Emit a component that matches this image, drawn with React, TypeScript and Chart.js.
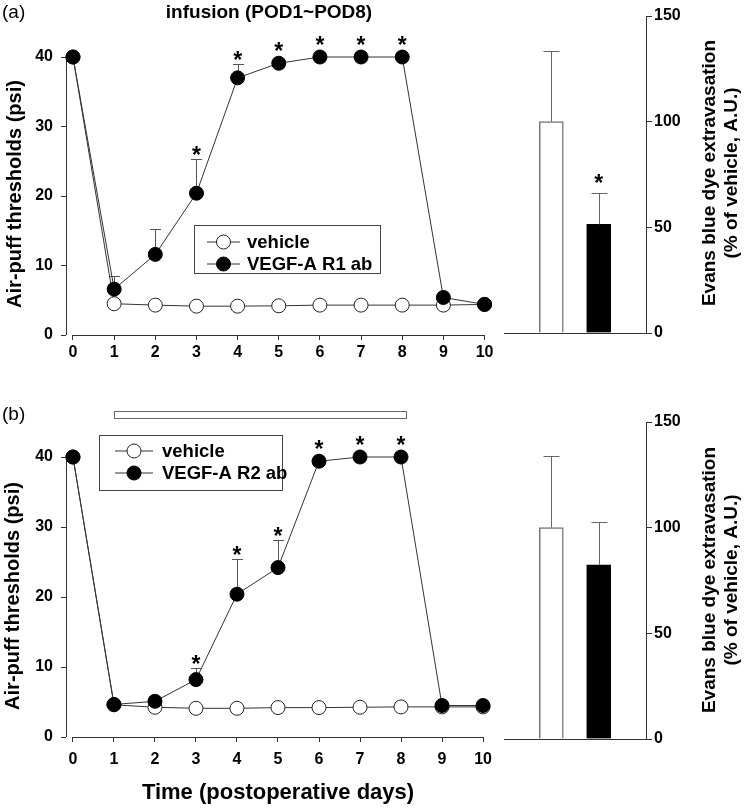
import React, { useEffect, useRef } from "react";
import { Chart, registerables } from "chart.js";

Chart.register(...registerables);

// ---------------- DATA ----------------
const days = [0, 1, 2, 3, 4, 5, 6, 7, 8, 9, 10];
const xTickValues = [0, 1, 2, 3, 4, 5, 6, 7, 8, 9, 10];
const leftTickValues = [0, 10, 20, 30, 40];
const rightTickValues = [0, 50, 100, 150];

// Panel (a)
const vehicleA = [40, 4.5, 4.3, 4.15, 4.15, 4.2, 4.3, 4.3, 4.3, 4.3, 4.4];
const vehicleAErr = [0, 0, 0, 0, 0, 0, 0, 0, 0, 0, 0];
const r1A = [40, 6.6, 11.6, 20.4, 37.0, 39.1, 40, 40, 40, 5.4, 4.4];
const r1AErr = [0, 1.9, 3.6, 4.9, 2.0, 0, 0, 0, 0, 0, 0];
const sigDaysA = [3, 4, 5, 6, 7, 8];

// Panel (b)
const vehicleB = [40, 4.6, 4.25, 4.1, 4.1, 4.2, 4.2, 4.25, 4.3, 4.3, 4.3];
const vehicleBErr = [0, 0, 0, 0, 0, 0, 0, 0, 0, 0, 0];
const r2B = [40, 4.65, 5.1, 8.2, 20.4, 24.2, 39.4, 40, 40, 4.5, 4.5];
const r2BErr = [0, 0, 0, 1.7, 5.1, 4.0, 0, 0, 0, 0, 0];
const sigDaysB = [3, 4, 5, 6, 7, 8];
const infusionDays = [1, 8];

// Bars (Evans blue)
const barGroupsA = ["vehicle", "VEGF-A R1 ab"];
const barA = [100, 51.4];
const barAErr = [33.6, 15.0];
const barSigA = [1];
const barGroupsB = ["vehicle", "VEGF-A R2 ab"];
const barB = [100, 82.4];
const barBErr = [33.7, 20.3];
const barSigB: number[] = [];

// ---------------- STYLE ----------------
const FONT = "'Liberation Sans', Arial, Helvetica, sans-serif";
const AXIS = "#333";
const LINE = "#333";
const ERR = "#555";
const PR = 7;

type TextItem = { text: string; x: number; y: number; size: number; bold?: boolean; align?: CanvasTextAlign; rot?: number };

const textPlugin = {
  id: "texts",
  afterDraw(chart: any) {
    const items: TextItem[] = chart.options.plugins.texts?.items || [];
    const ctx = chart.ctx;
    items.forEach((t) => {
      ctx.save();
      ctx.fillStyle = "#000";
      ctx.font = `${t.bold ? "bold " : ""}${t.size}px ${FONT}`;
      ctx.textAlign = t.align || "center";
      ctx.textBaseline = "middle";
      ctx.translate(t.x, t.y);
      if (t.rot) ctx.rotate(t.rot);
      ctx.fillText(t.text, 0, 0);
      ctx.restore();
    });
  },
};

const drawStar = (ctx: CanvasRenderingContext2D, x: number, cy: number) => {
  const size = 23;
  ctx.save();
  ctx.fillStyle = "#000";
  ctx.font = `bold ${size}px ${FONT}`;
  ctx.textAlign = "center";
  ctx.textBaseline = "alphabetic";
  ctx.fillText("*", x, cy + 0.57 * size);
  ctx.restore();
};

const linePlugin = {
  id: "lineExtras",
  beforeDatasetsDraw(chart: any) {
    const ctx = chart.ctx;
    const xs = chart.scales.x;
    const ys = chart.scales.y;
    const area = chart.chartArea;
    ctx.save();
    ctx.strokeStyle = AXIS;
    ctx.lineWidth = 1;
    // y axis
    ctx.beginPath();
    ctx.moveTo(Math.round(area.left) + 0.5, ys.getPixelForValue(ys.min));
    ctx.lineTo(Math.round(area.left) + 0.5, ys.getPixelForValue(ys.max));
    ctx.stroke();
    // x axis
    ctx.beginPath();
    ctx.moveTo(xs.getPixelForValue(xTickValues[0]), Math.round(area.bottom) + 0.5);
    ctx.lineTo(xs.getPixelForValue(xTickValues[xTickValues.length - 1]), Math.round(area.bottom) + 0.5);
    ctx.stroke();
    // error bars
    ctx.strokeStyle = ERR;
    chart.data.datasets.forEach((ds: any) => {
      (ds.errs || []).forEach((e: number, i: number) => {
        if (!e) return;
        const p = ds.data[i];
        const px = Math.round(xs.getPixelForValue(p.x)) + 0.5;
        const y0 = ys.getPixelForValue(p.y);
        const y1 = Math.round(ys.getPixelForValue(p.y + e)) + 0.5;
        ctx.beginPath();
        ctx.moveTo(px, y0);
        ctx.lineTo(px, y1);
        ctx.moveTo(px - 5.5, y1);
        ctx.lineTo(px + 5.5, y1);
        ctx.stroke();
      });
    });
    ctx.restore();
  },
  afterDatasetsDraw(chart: any) {
    const ctx = chart.ctx;
    const xs = chart.scales.x;
    const ys = chart.scales.y;
    const ex = chart.options.plugins.lineExtras;
    const ds = chart.data.datasets[0];
    (ex.sig || []).forEach((d: number) => {
      const i = ds.data.findIndex((p: any) => p.x === d);
      const p = ds.data[i];
      const e = ds.errs[i] || 0;
      const top = Math.min(ys.getPixelForValue(p.y + e), ys.getPixelForValue(p.y) - PR - 1);
      drawStar(ctx, xs.getPixelForValue(p.x), top - 9);
    });
    // infusion bar
    if (ex.infusion) {
      const x0 = xs.getPixelForValue(ex.infusion[0]);
      const x1 = xs.getPixelForValue(ex.infusion[1]) + 5;
      ctx.save();
      ctx.strokeStyle = "#666";
      ctx.fillStyle = "#fff";
      ctx.lineWidth = 1;
      ctx.fillRect(x0, ex.infusionY, x1 - x0, 7);
      ctx.strokeRect(Math.round(x0) + 0.5, ex.infusionY + 0.5, Math.round(x1 - x0), 7);
      ctx.restore();
    }
    // legend
    const lg = ex.legend;
    if (lg) {
      ctx.save();
      ctx.strokeStyle = "#444";
      ctx.lineWidth = 1;
      ctx.strokeRect(lg.x + 0.5, lg.y + 0.5, lg.w, lg.h);
      const order = [1, 0];
      order.forEach((di, row) => {
        const d = chart.data.datasets[di];
        const cy = lg.rows[row];
        ctx.strokeStyle = LINE;
        ctx.beginPath();
        ctx.moveTo(lg.lineX0, cy);
        ctx.lineTo(lg.lineX1, cy);
        ctx.stroke();
        ctx.beginPath();
        ctx.arc((lg.lineX0 + lg.lineX1) / 2, cy, PR, 0, Math.PI * 2);
        ctx.fillStyle = d.pointBackgroundColor;
        ctx.fill();
        ctx.strokeStyle = d.pointBorderColor;
        ctx.stroke();
        ctx.fillStyle = "#000";
        ctx.font = `bold 18.5px ${FONT}`;
        ctx.textAlign = "left";
        ctx.textBaseline = "middle";
        ctx.fillText(d.label, lg.textX, cy + 1);
      });
      ctx.restore();
    }
  },
};

const barPlugin = {
  id: "barExtras",
  afterDatasetsDraw(chart: any) {
    const ctx = chart.ctx;
    const xs = chart.scales.x;
    const ys = chart.scales.y;
    const area = chart.chartArea;
    const ex = chart.options.plugins.barExtras;
    ctx.save();
    ctx.strokeStyle = AXIS;
    ctx.lineWidth = 1;
    ctx.beginPath();
    ctx.moveTo(area.left, Math.round(area.bottom) + 0.5);
    ctx.lineTo(area.right, Math.round(area.bottom) + 0.5);
    ctx.moveTo(Math.round(area.right) + 0.5, ys.getPixelForValue(ys.min));
    ctx.lineTo(Math.round(area.right) + 0.5, ys.getPixelForValue(ys.max));
    ctx.stroke();
    const ds = chart.data.datasets[0];
    ctx.strokeStyle = "#666";
    ds.data.forEach((p: any, i: number) => {
      const e = ds.errs[i];
      const px = Math.round(xs.getPixelForValue(p.x)) + 0.5;
      const y0 = ys.getPixelForValue(p.y);
      const y1 = Math.round(ys.getPixelForValue(p.y + e)) + 0.5;
      ctx.beginPath();
      ctx.moveTo(px, y0);
      ctx.lineTo(px, y1);
      ctx.moveTo(px - 8, y1);
      ctx.lineTo(px + 8, y1);
      ctx.stroke();
    });
    ctx.restore();
    (ex.sig || []).forEach((i: number) => {
      const p = ds.data[i];
      const e = ds.errs[i];
      drawStar(ctx, xs.getPixelForValue(p.x), ys.getPixelForValue(p.y + e) - 15);
    });
  },
};

const tickFont = { family: FONT, size: 16, weight: "bold" as const };

function lineConfig(o: {
  vehicle: number[]; vehicleErr: number[]; drug: number[]; drugErr: number[]; drugLabel: string;
  sig: number[]; H: number; top: number; bottom: number; xPad: number;
  legend: any; texts: TextItem[]; infusion?: number[]; infusionY?: number;
}): any {
  const W = 500;
  return {
    type: "line",
    data: {
      datasets: [
        {
          label: o.drugLabel,
          data: days.map((d, i) => ({ x: d, y: o.drug[i] })),
          errs: o.drugErr,
          borderColor: LINE, borderWidth: 1,
          pointRadius: PR, pointBackgroundColor: "#000", pointBorderColor: "#000", pointBorderWidth: 1,
          clip: false,
        },
        {
          label: "vehicle",
          data: days.map((d, i) => ({ x: d, y: o.vehicle[i] })),
          errs: o.vehicleErr,
          borderColor: LINE, borderWidth: 1,
          pointRadius: PR, pointBackgroundColor: "#fff", pointBorderColor: "#222", pointBorderWidth: 1,
          clip: false,
        },
      ],
    },
    options: {
      animation: false, responsive: false, maintainAspectRatio: false,
      layout: { padding: { left: 0, top: o.top, right: W - 487, bottom: 0 } },
      plugins: {
        legend: { display: false }, tooltip: { enabled: false },
        texts: { items: o.texts },
        lineExtras: { sig: o.sig, legend: o.legend, infusion: o.infusion, infusionY: o.infusionY },
      },
      scales: {
        x: {
          type: "linear", min: -0.17, max: 10.06,
          afterBuildTicks: (s: any) => { s.ticks = xTickValues.map((v) => ({ value: v })); },
          afterFit: (s: any) => { s.height = o.H - o.bottom; },
          grid: { display: true, drawOnChartArea: false, drawTicks: true, tickLength: 5, color: AXIS },
          border: { display: false },
          ticks: { font: tickFont, color: "#000", padding: o.xPad, maxRotation: 0, autoSkip: false },
        },
        y: {
          type: "linear", min: 0, max: 40,
          afterBuildTicks: (s: any) => { s.ticks = leftTickValues.map((v) => ({ value: v })); },
          afterFit: (s: any) => { s.width = 66; },
          grid: { display: true, drawOnChartArea: false, drawTicks: true, tickLength: 5, color: AXIS },
          border: { display: false },
          ticks: { font: tickFont, color: "#000", padding: 8 },
        },
      },
    },
    plugins: [linePlugin, textPlugin],
  };
}

function barConfig(o: { groups: string[]; vals: number[]; errs: number[]; sig: number[]; H: number; top: number; bottom: number; texts: TextItem[] }): any {
  return {
    type: "bar",
    data: {
      datasets: [
        {
          label: "Evans blue",
          data: o.groups.map((g, i) => ({ x: i + 1, y: o.vals[i] })),
          errs: o.errs,
          backgroundColor: ["#fff", "#000"],
          borderColor: ["#777", "#000"],
          borderWidth: 1.5,
          barThickness: 24,
        },
      ],
    },
    options: {
      animation: false, responsive: false, maintainAspectRatio: false,
      layout: { padding: { left: 14, top: o.top, right: 0, bottom: o.H - o.bottom } },
      plugins: {
        legend: { display: false }, tooltip: { enabled: false },
        texts: { items: o.texts },
        barExtras: { sig: o.sig },
      },
      scales: {
        x: { type: "linear", min: 0, max: o.groups.length + 1, display: false, offset: false },
        y: {
          type: "linear", position: "right", min: 0, max: 150,
          afterBuildTicks: (s: any) => { s.ticks = rightTickValues.map((v) => ({ value: v })); },
          afterFit: (s: any) => { s.width = 98; },
          grid: { display: true, drawOnChartArea: false, drawTicks: true, tickLength: 6, color: AXIS },
          border: { display: false },
          ticks: { font: tickFont, color: "#000", padding: 2 },
        },
      },
    },
    plugins: [barPlugin, textPlugin],
  };
}

const yTitle = "Air-puff thresholds (psi)";
const rTitle1 = "Evans blue dye extravasation";
const rTitle2 = "(% of vehicle, A.U.)";

export default function App() {
  const aLine = useRef<HTMLCanvasElement>(null);
  const aBar = useRef<HTMLCanvasElement>(null);
  const bLine = useRef<HTMLCanvasElement>(null);
  const bBar = useRef<HTMLCanvasElement>(null);

  useEffect(() => {
    const charts: Chart[] = [];
    charts.push(
      new Chart(aLine.current!, lineConfig({
        vehicle: vehicleA, vehicleErr: vehicleAErr, drug: r1A, drugErr: r1AErr, drugLabel: "VEGF-A R1 ab",
        sig: sigDaysA, H: 380, top: 57, bottom: 335, xPad: 3,
        legend: { x: 194, y: 225, w: 186, h: 48, rows: [242, 264], lineX0: 207, lineX1: 240, textX: 247 },
        texts: [
          { text: "(a)", x: 2, y: 13, size: 19, align: "left" },
          { text: "infusion (POD1~POD8)", x: 269, y: 13, size: 19, bold: true },
          { text: yTitle, x: 15, y: 194, size: 20, bold: true, rot: -Math.PI / 2 },
        ],
      }))
    );
    charts.push(
      new Chart(aBar.current!, barConfig({
        groups: barGroupsA, vals: barA, errs: barAErr, sig: barSigA, H: 380, top: 16, bottom: 333,
        texts: [
          { text: rTitle1, x: 220, y: 173, size: 19, bold: true, rot: -Math.PI / 2 },
          { text: rTitle2, x: 242, y: 173, size: 19, bold: true, rot: -Math.PI / 2 },
        ],
      }))
    );
    charts.push(
      new Chart(bLine.current!, lineConfig({
        vehicle: vehicleB, vehicleErr: vehicleBErr, drug: r2B, drugErr: r2BErr, drugLabel: "VEGF-A R2 ab",
        sig: sigDaysB, H: 419, top: 67, bottom: 347, xPad: 8,
        legend: { x: 99, y: 45, w: 183, h: 55, rows: [61, 83], lineX0: 115, lineX1: 153, textX: 162 },
        infusion: infusionDays, infusionY: 21,
        texts: [
          { text: "(b)", x: 2, y: 25, size: 19, align: "left" },
          { text: yTitle, x: 13, y: 206, size: 20, bold: true, rot: -Math.PI / 2 },
          { text: "Time (postoperative days)", x: 278, y: 403, size: 22, bold: true },
        ],
      }))
    );
    charts.push(
      new Chart(bBar.current!, barConfig({
        groups: barGroupsB, vals: barB, errs: barBErr, sig: barSigB, H: 419, top: 32, bottom: 349,
        texts: [
          { text: rTitle1, x: 220, y: 190, size: 19, bold: true, rot: -Math.PI / 2 },
          { text: rTitle2, x: 242, y: 190, size: 19, bold: true, rot: -Math.PI / 2 },
        ],
      }))
    );
    return () => charts.forEach((c) => c.destroy());
  }, []);

  const cs = (l: number, t: number, w: number, h: number): React.CSSProperties => ({
    position: "absolute", left: l, top: t, width: w, height: h,
  });

  return (
    <div style={{ position: "absolute", left: 0, top: 0, width: 744, height: 809, background: "#fff", overflow: "hidden" }}>
      <canvas ref={aLine} width={500} height={380} style={cs(0, 0, 500, 380)} />
      <canvas ref={aBar} width={254} height={380} style={cs(490, 0, 254, 380)} />
      <canvas ref={bLine} width={500} height={419} style={cs(0, 390, 500, 419)} />
      <canvas ref={bBar} width={254} height={419} style={cs(490, 390, 254, 419)} />
    </div>
  );
}
